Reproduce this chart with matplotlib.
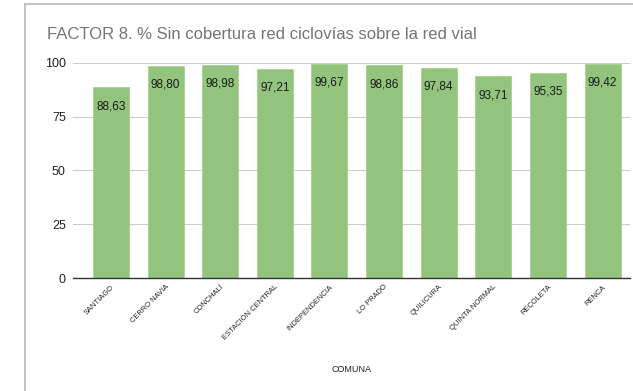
import matplotlib.pyplot as plt
from matplotlib.lines import Line2D

plt.rcParams['font.family'] = ['Liberation Sans', 'DejaVu Sans']

# datos
comunas = ["SANTIAGO", "CERRO NAVIA", "CONCHALÍ", "ESTACIÓN CENTRAL", "INDEPENDENCIA",
           "LO PRADO", "QUILICURA", "QUINTA NORMAL", "RECOLETA", "RENCA"]
valores = [88.63, 98.80, 98.98, 97.21, 99.67, 98.86, 97.84, 93.71, 95.35, 99.42]
y_ticks = [0, 25, 50, 75, 100]

fig = plt.figure(figsize=(6.33, 3.91), dpi=100)
ax = fig.add_axes([0.115, 0.289, 0.88, 0.55])

x = range(len(comunas))
bars = ax.bar(x, valores, width=0.66, color='#93c47d', edgecolor='#a9d18e', linewidth=0.6, zorder=3)

# etiquetas dentro de las barras
for xi, v in zip(x, valores):
    ax.annotate(f"{v:.2f}".replace('.', ','), (xi, v), xytext=(0, -13.5), textcoords='offset points',
                ha='center', va='center', fontsize=8.5, color='#1a1a1a', zorder=4)

ax.set_xlim(-0.7, 9.5)
ax.set_ylim(0, 100)
ax.set_yticks(y_ticks)
ax.set_yticklabels([str(t) for t in y_ticks], fontsize=9, color='#222222')
ax.yaxis.grid(True, color='#cccccc', linewidth=0.8, zorder=0)
ax.tick_params(axis='y', length=0, pad=5)

ax.set_xticks(list(x))
ax.set_xticklabels(comunas, rotation=45, ha='right', rotation_mode='anchor', fontsize=5.4, color='#222222')
ax.tick_params(axis='x', length=0, pad=4)
ax.set_xlabel("COMUNA", fontsize=6.5, color='#222222', labelpad=17)

for s in ['top', 'right', 'left']:
    ax.spines[s].set_visible(False)
ax.spines['bottom'].set_color('#333333')
ax.spines['bottom'].set_linewidth(1.0)
ax.spines['bottom'].set_zorder(5)

fig.text(0.074, 0.913, "FACTOR 8. % Sin cobertura red ciclovías sobre la red vial",
         fontsize=12, color='#757575', ha='left', va='center')

# borde de la hoja
fig.add_artist(Line2D([25 / 633, 25 / 633], [0, 1 - 4 / 391], color='#b7b7b7', linewidth=1.2))
fig.add_artist(Line2D([25 / 633, 1], [1 - 4 / 391, 1 - 4 / 391], color='#b7b7b7', linewidth=1.2))

fig.savefig("out.png", dpi=100)
